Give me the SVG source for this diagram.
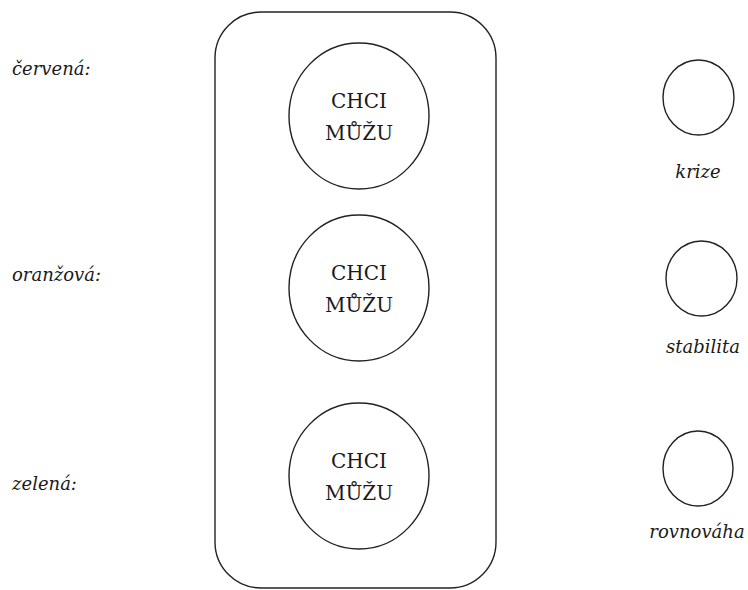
<svg xmlns="http://www.w3.org/2000/svg" width="748" height="590" viewBox="0 0 748 590">
  <style>
    .shape { fill: #ffffff; stroke: #222222; stroke-width: 1.4; }
    .word { font-family: "DejaVu Serif", serif; fill: #1a1a1a; }
    .inner { font-size: 20px; text-anchor: middle; }
    .label { font-size: 18px; font-style: italic; }
    .tag { font-size: 18px; font-style: italic; text-anchor: middle; }
  </style>
  <rect width="748" height="590" fill="#ffffff"/>

  <!-- traffic light housing -->
  <g id="housing">
    <rect class="shape" x="215" y="12" width="281" height="576" rx="46" ry="46"/>
  </g>

  <!-- lamps -->
  <g id="lamp-red">
    <ellipse class="shape" cx="359" cy="116" rx="70" ry="73"/>
    <text class="word inner" x="359" y="108">CHCI</text>
    <text class="word inner" x="359" y="140">MŮŽU</text>
  </g>
  <g id="lamp-orange">
    <ellipse class="shape" cx="359" cy="288" rx="70" ry="73"/>
    <text class="word inner" x="359" y="280">CHCI</text>
    <text class="word inner" x="359" y="312">MŮŽU</text>
  </g>
  <g id="lamp-green">
    <ellipse class="shape" cx="359" cy="476" rx="70" ry="73"/>
    <text class="word inner" x="359" y="468">CHCI</text>
    <text class="word inner" x="359" y="500">MŮŽU</text>
  </g>

  <!-- colour names -->
  <g id="label-red"><text class="word label" x="12" y="75">červená:</text></g>
  <g id="label-orange"><text class="word label" x="12" y="281">oranžová:</text></g>
  <g id="label-green"><text class="word label" x="12" y="490">zelená:</text></g>

  <!-- legend circles -->
  <g id="state-krize">
    <ellipse class="shape" cx="698.5" cy="97.5" rx="35.5" ry="37.5"/>
    <text class="word tag" x="698" y="178">krize</text>
  </g>
  <g id="state-stabilita">
    <ellipse class="shape" cx="701.5" cy="278.5" rx="35.5" ry="37.5"/>
    <text class="word tag" x="703" y="353">stabilita</text>
  </g>
  <g id="state-rovnovaha">
    <ellipse class="shape" cx="698" cy="468.5" rx="35" ry="37.5"/>
    <text class="word tag" x="697" y="538">rovnováha</text>
  </g>

  <g id="connectors"></g>
</svg>
